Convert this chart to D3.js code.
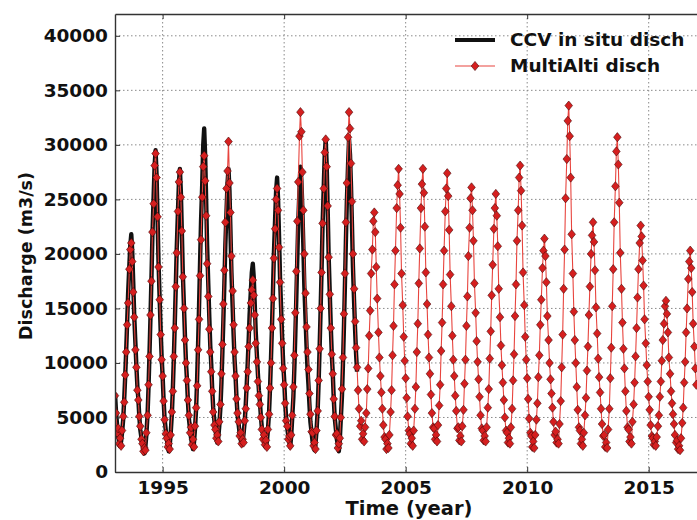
<!DOCTYPE html>
<html><head><meta charset="utf-8">
<script src="https://cdn.jsdelivr.net/npm/d3@7"></script>
<style>
body{margin:0;background:#fff;}
svg{display:block;font-family:"DejaVu Sans",sans-serif;font-weight:bold;}
</style>
</head><body>
<svg id="c" width="697" height="520"></svg>
<script>
// ---------- DATA ----------
const years = [1993,1994,1995,1996,1997,1998,1999,2000,2001,2002,2003,2004,2005,2006,2007,2008,2009,2010,2011,2012,2013,2014,2015,2016];
const sampleOffsets = [0.00,0.04,0.08,0.13,0.17,0.21,0.25,0.29,0.33,0.38,0.42,0.46,0.50,0.54,0.58,0.63,0.67,0.71,0.75,0.79,0.83,0.88,0.92,0.96];

// MultiAlti discharge (m3/s), one row per year, sampled at sampleOffsets
const multiAltiValues = [
 [null,7000,5400,3600,4000,2600,3100,2400,3800,5100,6400,8900,11000,13500,15500,18600,20400,21000,19300,16500,14200,11200,9600,7500],
 [6600,5100,4200,3000,2600,1900,2200,2000,3600,5200,8000,10600,14400,17500,22000,24600,28100,29200,27000,23400,18800,15800,12600,10300],
 [8800,6500,4800,3500,3100,2300,2600,2100,3400,5500,7400,10600,13200,17000,20100,23900,26600,27500,25200,22100,17900,15000,12100,10000],
 [8400,6600,5200,3600,4100,2500,3000,2300,4200,5900,7900,11200,14000,18000,21300,25200,28000,29000,26700,23500,19100,16100,13100,11000],
 [9200,7400,5500,4300,3900,3100,3400,2800,4600,6200,9000,11700,15400,18500,22900,26000,27600,30300,26500,23800,19800,16600,13500,11000],
 [8800,6700,5400,4600,3300,3600,2600,3000,2700,4700,5800,7700,9200,11500,13200,15500,16700,17600,16200,14400,11800,10100,8300,7000],
 [6200,5000,3900,3000,3400,2500,2900,2300,3900,5300,7700,10000,13200,15900,19600,22300,25000,26000,24000,20600,17400,14000,11800,9500],
 [8000,6300,4700,4200,3000,3300,2400,3400,5200,7800,10700,14600,18400,23000,26600,30800,33000,31200,27500,24000,20000,16400,13300,11000],
 [9400,7200,5300,3700,3600,2400,2700,2100,3800,5600,8400,11300,15000,18300,22800,26000,29300,30500,28000,24400,19700,16300,13200,10800],
 [9000,6700,5100,3400,3500,2200,2600,3100,5000,7600,10500,14500,18200,22900,26500,30700,33000,31500,28300,24800,20000,16800,13800,11400],
 [9600,7500,5800,4200,4700,3000,3500,2800,4100,5400,7600,9500,12500,14800,18200,20400,23000,23800,22000,18800,15900,12800,10500,8800],
 [7300,5800,4300,3200,3000,2100,2600,2200,3400,5500,7500,10700,13400,17200,20300,24200,26300,27800,25500,22400,18200,15300,12400,10200],
 [8600,6800,5100,3800,3500,2600,3100,2400,3800,5800,7800,11000,13600,17300,20500,24200,26400,27800,25600,22500,18300,15400,12600,10500],
 [9000,7100,5400,4100,4000,3000,3400,2800,4300,6100,8000,11100,13700,17200,20300,23900,26000,27400,25300,22200,18100,15200,12500,10300],
 [8800,7000,5600,4000,4100,2900,3300,2800,4200,5700,8100,10300,13400,16100,19800,22400,25100,26100,24000,21200,17300,14600,12000,10100],
 [8500,6900,5200,4000,3800,2900,3300,2800,4100,5900,7600,10400,12900,16200,19000,22300,24200,25500,23500,20700,16800,14200,11600,9800],
 [8200,6600,5000,3800,3600,2700,3100,2600,4100,5800,8400,10800,14300,17200,21200,24000,27000,28100,25800,22600,18300,15300,12400,10300],
 [8600,6700,4900,3600,3300,2300,2800,2200,3400,4800,6300,8700,10700,13500,15800,18700,20300,21400,19800,17400,14300,12100,10000,8500],
 [7200,5900,4600,3400,3700,2700,3000,2600,4400,6500,9600,12600,16800,20400,25100,28700,32200,33600,30800,27000,21800,18200,14700,12100],
 [10000,7800,5700,4100,3800,2600,3000,2400,3600,5200,6800,9300,11500,14400,17000,20000,21700,22900,21100,18500,15100,12700,10400,8700],
 [7300,5800,4400,3300,3400,2300,2700,2200,3900,5800,8600,11400,15200,18600,22900,26200,29400,30700,28200,24700,20100,16800,13700,11300],
 [9500,7400,5600,4100,3900,2800,3200,2600,4600,6200,8200,10600,13200,16000,18600,21000,22600,21600,19400,17100,14000,11800,9800,8300],
 [6900,5700,4300,3300,3100,2500,2800,2400,3200,4200,5200,6900,8300,10200,12100,13600,15200,15700,14500,12800,10500,9000,7400,6300],
 [5300,4400,3400,2700,2900,2100,2400,2000,3100,4500,5900,8200,10100,12800,15000,17700,19300,20300,18700,16500,13600,11500,9500,8000]
];

// CCV in situ discharge (m3/s), one row per year, sampled at sampleOffsets
const inSituYears = [1993,1994,1995,1996,1997,1998,1999,2000,2001,2002,2003];
const inSituValues = [
 [null,7200,5600,4200,3300,2800,2400,2800,3600,4900,6700,8800,11100,13700,16400,18900,20800,21800,20200,17400,14400,11800,9700,7900],
 [6700,5100,3900,3100,2500,2100,1700,2300,3400,5300,7800,10900,14200,17800,21700,25300,28100,29500,27300,23400,19300,15700,12900,10500],
 [8800,6600,4900,3800,3000,2500,1900,2400,3500,5300,7600,10400,13600,16900,20500,23900,26500,27800,25700,22100,18300,15000,12400,10100],
 [8500,6500,4900,3900,3100,2600,2100,2700,3900,5900,8600,11800,15300,19200,23000,26500,30000,31500,29000,25000,20800,17100,14200,11600],
 [9900,7600,5900,4700,3900,3300,2700,3200,4200,6000,8200,11000,14000,17300,20800,24000,26500,27800,25800,22200,18400,15200,12600,10300],
 [8800,6800,5300,4300,3500,3000,2500,2800,3500,4700,6200,8000,10000,12100,14500,16600,18300,19100,17800,15400,12900,10700,9000,7500],
 [6500,5200,4100,3500,3000,2600,2300,2800,3800,5500,7700,10500,13400,16600,20100,23300,25800,27000,25000,21600,17900,14700,12200,10000],
 [8500,6500,5000,4000,3300,2800,2300,3300,4900,6900,9500,12600,15900,19500,22900,25900,28000,26700,24100,20700,17100,14000,11600,9500],
 [8000,6200,4600,3600,2800,2300,2000,2600,3700,5700,8300,11400,14800,18500,22500,26200,29100,30500,28200,24200,19900,16200,13300,10800],
 [9100,6800,5000,3900,3000,2500,1900,3000,4800,7000,9900,13300,17100,21100,24800,28200,30500,29100,26300,22700,18900,15500,13000,10800],
 [9200]
];

const xTicks = [1995, 2000, 2005, 2010, 2015];
const yTicks = [0, 5000, 10000, 15000, 20000, 25000, 30000, 35000, 40000];
const xDomain = [1993.04, 2017.0];
const yDomain = [0, 42000];
const seriesNames = ["CCV in situ disch", "MultiAlti disch"];
const xLabel = "Time (year)";
const yLabel = "Discharge (m3/s)";

// ---------- BUILD ----------
function toPoints(yrs, rows){
  const pts = [];
  rows.forEach((row, i) => row.forEach((v, k) => {
    if (v != null) pts.push({t: yrs[i] + sampleOffsets[k], v});
  }));
  return pts;
}
const multiAlti = toPoints(years, multiAltiValues);
const inSitu = toPoints(inSituYears, inSituValues);

const L = 115, R = 697.3, T = 14, B = 472;
const svg = d3.select("#c");
const x = d3.scaleLinear().domain(xDomain).range([L, R]);
const y = d3.scaleLinear().domain(yDomain).range([B, T]);

svg.append("defs").append("clipPath").attr("id","clip")
  .append("rect").attr("x",L).attr("y",T).attr("width",R-L).attr("height",B-T);

// grid
const grid = svg.append("g").attr("stroke","#8a8a8a").attr("stroke-width",1).attr("stroke-dasharray","1.5,2.5");
grid.selectAll("line.gx").data(xTicks).join("line")
  .attr("x1",d=>x(d)).attr("x2",d=>x(d)).attr("y1",T).attr("y2",B);
grid.selectAll("line.gy").data(yTicks.filter(d=>d>0)).join("line")
  .attr("x1",L).attr("x2",R).attr("y1",d=>y(d)).attr("y2",d=>y(d));

// series
const plot = svg.append("g").attr("clip-path","url(#clip)");
const line = d3.line().x(d=>x(d.t)).y(d=>y(d.v));
plot.append("path").datum(inSitu).attr("d",line)
  .attr("fill","none").attr("stroke","#111").attr("stroke-width",4.4)
  .attr("stroke-linejoin","round");
plot.append("path").datum(multiAlti).attr("d",line)
  .attr("fill","none").attr("stroke","#e8443e").attr("stroke-width",1.1);
const diamond = "M0,-4.6L3.8,0L0,4.6L-3.8,0Z";
plot.selectAll("path.mk").data(multiAlti).join("path")
  .attr("class","mk").attr("d",diamond)
  .attr("transform",d=>`translate(${x(d.t)},${y(d.v)})`)
  .attr("fill","#d51f1f").attr("stroke","#4a0808").attr("stroke-width",0.6);

// axes
function styleAxis(g){
  g.attr("font-family",null).attr("font-size",null);
  g.selectAll("text").attr("fill","#111").style("font-size","18.5px").style("font-weight","bold");
  g.selectAll("line").attr("stroke","#333").attr("stroke-width",1);
  g.select(".domain").attr("stroke","#333").attr("stroke-width",1.4);
}
svg.append("g").attr("transform",`translate(0,${B})`)
  .call(d3.axisBottom(x).tickValues(xTicks).tickFormat(d3.format("d")).tickSizeInner(-5).tickSizeOuter(0).tickPadding(9))
  .call(styleAxis);
svg.append("g").attr("transform",`translate(${L},0)`)
  .call(d3.axisLeft(y).tickValues(yTicks).tickFormat(d3.format("d")).tickSizeInner(-5).tickSizeOuter(0).tickPadding(7))
  .call(styleAxis);
svg.append("g").attr("transform",`translate(0,${T})`)
  .call(d3.axisTop(x).tickValues(xTicks).tickFormat("").tickSizeInner(-5).tickSizeOuter(0))
  .call(styleAxis);

// axis labels
svg.append("text").attr("x",409).attr("y",515).attr("text-anchor","middle")
  .style("font-size","19.5px").attr("fill","#111").text(xLabel);
svg.append("text").attr("transform","translate(32,256) rotate(-90)").attr("text-anchor","middle")
  .style("font-size","17.5px").attr("fill","#111").text(yLabel);

// legend
const lg = svg.append("g");
lg.append("line").attr("x1",455).attr("x2",495).attr("y1",40).attr("y2",40)
  .attr("stroke","#111").attr("stroke-width",4);
lg.append("line").attr("x1",455).attr("x2",495).attr("y1",66).attr("y2",66)
  .attr("stroke","#e8443e").attr("stroke-width",1.2);
lg.append("path").attr("d",diamond).attr("transform","translate(475,66)")
  .attr("fill","#d51f1f").attr("stroke","#4a0808").attr("stroke-width",0.6);
lg.selectAll("text").data(seriesNames).join("text")
  .attr("x",510).attr("y",(d,i)=>40+i*26).attr("dy","0.35em")
  .style("font-size","18.5px").attr("fill","#111").text(d=>d);
</script>
</body></html>
